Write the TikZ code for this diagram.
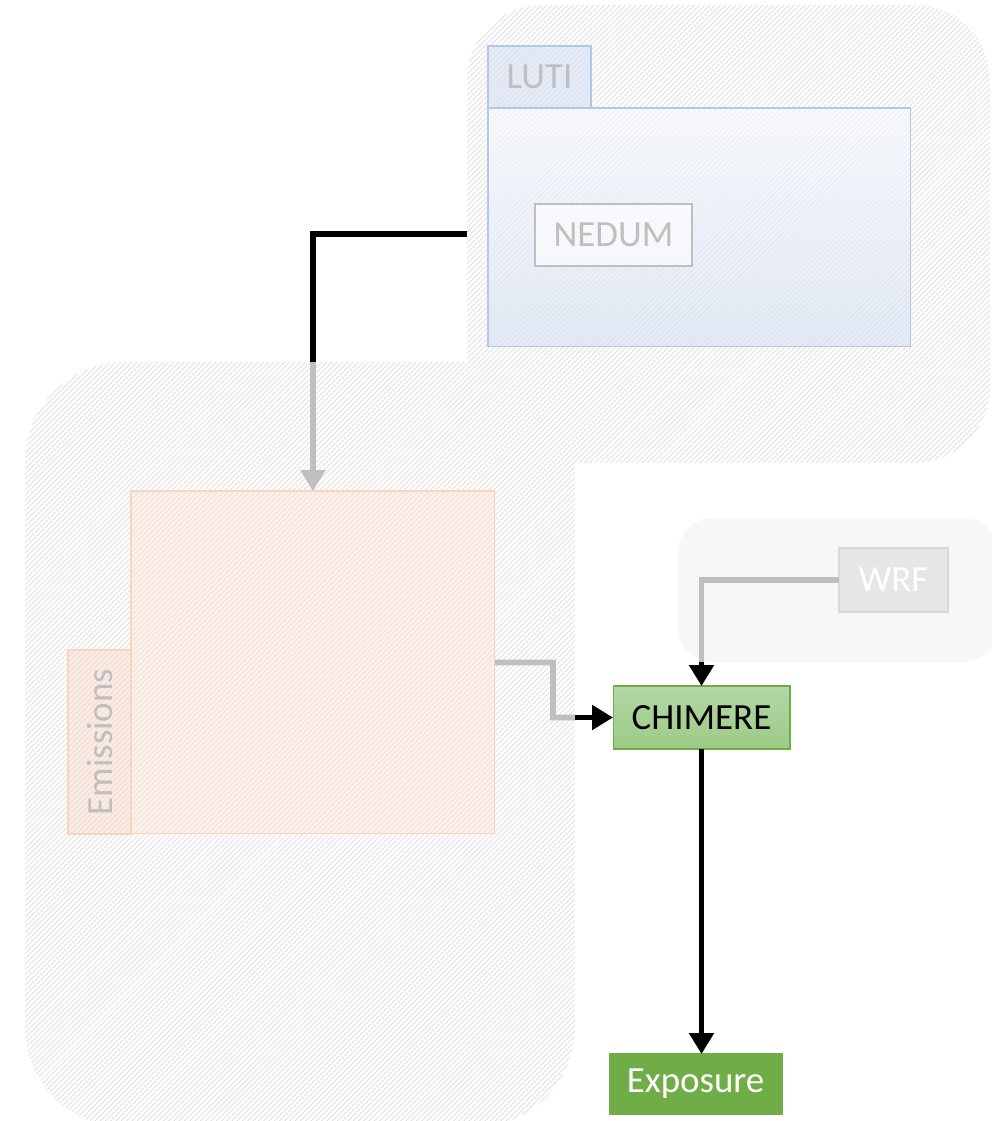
\documentclass[tikz,border=0pt]{standalone}
\usepackage{fontspec}
\setmainfont{Carlito}
\usetikzlibrary{arrows.meta,patterns}

\definecolor{hatchgray}{HTML}{DCDCDC}
\definecolor{txtgray}{HTML}{BFBFBF}
\definecolor{lutiblue}{HTML}{DAE3F3}
\definecolor{lutiedge}{HTML}{B4C7E7}
\definecolor{emifill}{HTML}{FBE5D6}
\definecolor{emitabfill}{HTML}{F9DCCB}
\definecolor{emiedge}{HTML}{F8D5BE}
\definecolor{wrfback}{HTML}{F7F7F7}
\definecolor{wrffill}{HTML}{E6E6E6}
\definecolor{wrfedge}{HTML}{D9D9D9}
\definecolor{chimtop}{HTML}{B4D7A6}
\definecolor{chimbot}{HTML}{9CCB86}
\definecolor{expgreen}{HTML}{70AD47}
\definecolor{linkgray}{HTML}{BFBFBF}

\tikzset{
  every node/.style={font=\fontsize{21}{25}\selectfont, inner sep=0pt, outer sep=0pt},
  group/.style={pattern=north east lines, pattern color=hatchgray, preaction={fill=white}},
  box/.style={draw, rectangle, line width=0.6pt, text opacity=1},
  link/.style={line width=3.3pt, line join=miter},
  blacklink/.style={link, draw=black},
  graylink/.style={link, draw=linkgray},
  tip/.style={-{Triangle[length=0.42cm, width=0.48cm]}}
}

\begin{document}
\begin{tikzpicture}[x=0.02cm, y=-0.02cm]
  \useasboundingbox (0,0) rectangle (991,1121);

  % groups
  \node (emigrp) [group, rounded corners=2cm, anchor=north west, minimum width=11cm, minimum height=15.3cm] at (25,362) {};
  \node (lutigrp) [group, rounded corners=1.5cm, anchor=north west, minimum width=10.46cm, minimum height=9.16cm] at (467,5) {};
  \node (wrfgrp) [fill=wrfback, rounded corners=0.7cm, anchor=north west, minimum width=6.4cm, minimum height=2.88cm] at (678,518) {};

  % LUTI
  \node (lutitab) [box, draw=lutiedge, fill=lutiblue, fill opacity=0.7, text=txtgray, anchor=north west, minimum width=2.06cm, minimum height=1.24cm] at (488,46) {LUTI};
  \node (lutibox) [box, draw=lutiedge, top color=lutiblue!25, bottom color=lutiblue, fill opacity=0.75, anchor=north west, minimum width=8.46cm, minimum height=4.78cm] at (488,108) {};
  \node (nedum) [box, draw=txtgray, line width=1pt, fill=white, fill opacity=0.6, text=txtgray, minimum width=3.14cm, minimum height=1.24cm] at (613.5,235) {NEDUM};

  % Emissions
  \node (emitab) [box, draw=emiedge, fill=emitabfill, fill opacity=0.55, text=txtgray, rotate=90, minimum width=3.68cm, minimum height=1.26cm] at (99.5,742) {Emissions};
  \node (emibox) [box, draw=emiedge, fill=emifill, fill opacity=0.55, anchor=north west, minimum width=7.28cm, minimum height=6.86cm] at (131,491) {};

  % WRF, CHIMERE, Exposure
  \node (wrf) [box, draw=wrfedge, line width=1pt, fill=wrffill, text=white, minimum width=2.18cm, minimum height=1.28cm] at (893.5,580) {WRF};
  \node (chimere) [box, draw=expgreen, top color=chimtop, bottom color=chimbot, text=black, minimum width=3.54cm, minimum height=1.26cm] at (701.5,717.5) {CHIMERE};
  \node (exposure) [box, draw=expgreen, fill=expgreen, text=white, minimum width=3.46cm, minimum height=1.2cm] at (695.5,1084) {Exposure};

  % connectors
  \coordinate (emitop) at (emibox.north |- emigrp.north);
  \draw[blacklink] (lutigrp.west) -| (emitop);
  \draw[graylink, tip] (emitop) -- (emibox.north);

  \coordinate (emibend) at (553,662.5);
  \coordinate (emiout) at (emigrp.east |- chimere.west);
  \draw[graylink] (emibox.east) -- (emibend) |- (emiout);
  \draw[blacklink, tip] (emiout) -- (chimere.west);

  \coordinate (wrfout) at (chimere.north |- wrfgrp.south);
  \draw[graylink] (wrf.west) -| (wrfout);
  \draw[blacklink, tip] (wrfout) -- (chimere.north);

  \draw[blacklink, tip] (chimere.south) -- (chimere.south |- exposure.north);
\end{tikzpicture}
\end{document}
